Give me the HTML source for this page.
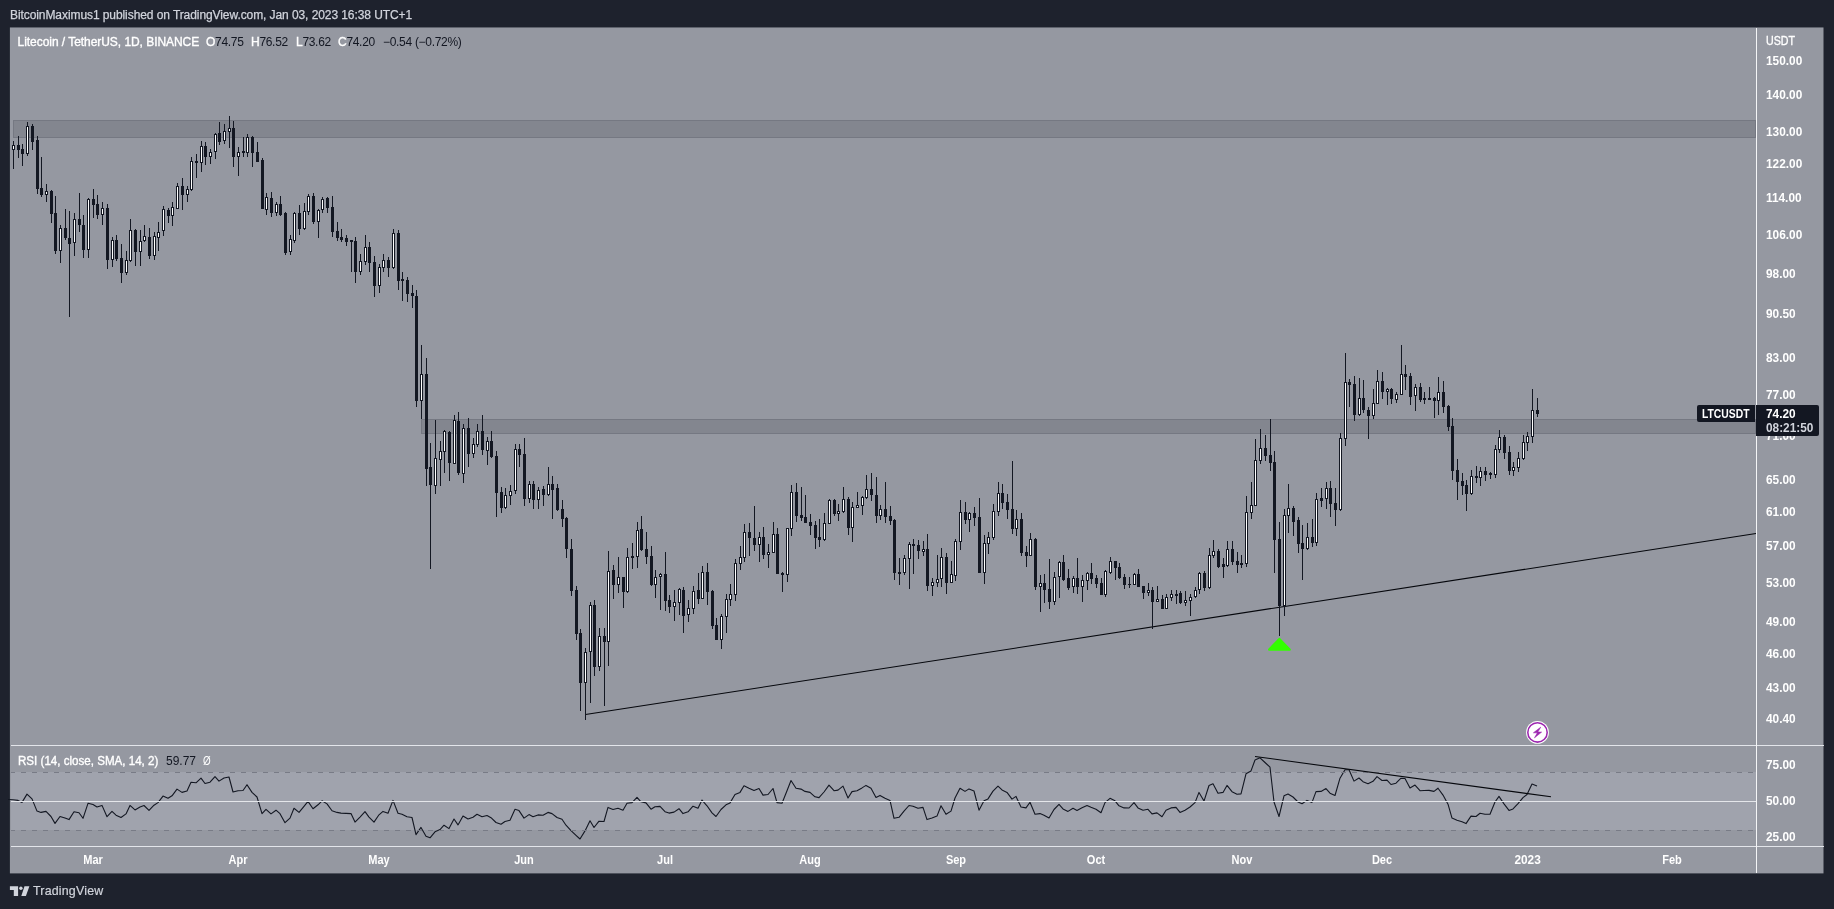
<!DOCTYPE html>
<html><head><meta charset="utf-8"><title>LTCUSDT</title>
<style>
html,body{margin:0;padding:0;}
body{width:1834px;height:909px;background:#1e222d;overflow:hidden;position:relative;font-family:"Liberation Sans",sans-serif;}
.t{position:absolute;white-space:nowrap;line-height:14px;font-size:12px;color:#fff;}
#hdr{left:10px;top:8px;color:#d1d4dc;font-size:12px;letter-spacing:-0.08px;-webkit-text-stroke:0.25px #d1d4dc;}
.w{-webkit-text-stroke:0.35px #fff;}
svg{position:absolute;left:0;top:0;}
#txt{position:absolute;left:0;top:0;width:1834px;height:909px;will-change:transform;}
.ax{font-weight:bold;font-size:11.85px;left:1766px;margin-top:-0.5px;}
.tm{font-weight:bold;font-size:11.85px;transform:translateX(-50%) scaleX(0.93);top:852.5px;}
.v{color:#131722;}
.lg{letter-spacing:-0.3px;}
#lbl1{position:absolute;left:1697px;top:405px;width:58px;height:17px;background:#131722;border-radius:2px 0 0 2px;}
#lbl2{position:absolute;left:1756px;top:405px;width:63px;height:31px;background:#131722;border-radius:0 2px 2px 0;}
</style></head><body>
<svg width="1834" height="909" viewBox="0 0 1834 909">
<!-- chart border -->
<rect x="9.9" y="27.45" width="1813.6" height="845.95" fill="#9598a1"/>
<!-- bands -->
<rect x="13.5" y="120.5" width="1742" height="17" fill="#83868f" stroke="#757882" stroke-width="1"/>
<rect x="421.5" y="419.5" width="1334" height="14" fill="#83868f" stroke="#757882" stroke-width="1"/>
<!-- RSI band -->
<rect x="11" y="772" width="1745" height="58" fill="#a0a3ad"/>
<polyline points="8,799.5 13,799.8 18,800.4 22,802.4 27,794.1 32,798.9 37,811.1 41,812.4 46,811.4 51,816.5 55,823.4 60,816.5 65,818.1 69,819.6 74,811.8 79,812.7 83,818.3 88,803.3 93,804.5 97,807.0 102,805.4 107,816.7 112,811.4 116,815.2 121,817.5 126,813.9 130,805.4 135,809.9 140,807.0 144,805.5 149,810.4 154,805.2 158,802.6 163,796.1 168,798.3 172,795.8 177,789.1 182,792.4 187,791.0 191,782.3 196,782.8 201,778.2 205,783.5 210,782.2 215,776.6 219,781.1 224,778.0 229,777.0 233,792.0 238,790.7 243,790.5 247,784.7 252,792.4 257,797.0 262,813.6 266,809.3 271,813.9 276,810.2 280,813.7 285,822.7 290,818.1 294,808.3 299,812.4 304,806.4 308,801.4 313,808.7 318,804.8 322,800.8 327,803.9 332,810.8 337,812.4 341,813.1 346,813.4 351,813.6 355,822.1 360,817.1 365,811.7 369,817.1 374,822.1 379,814.8 383,811.4 388,813.3 393,800.4 398,813.3 402,814.2 407,816.7 412,817.5 416,834.6 421,827.4 426,836.3 430,837.8 435,831.8 440,829.6 444,825.2 449,828.6 454,819.0 458,824.9 463,816.1 468,819.0 473,817.3 477,814.3 482,816.7 487,815.5 491,817.7 496,822.5 501,824.2 505,821.5 510,820.2 515,809.3 519,810.6 524,818.1 529,814.6 533,816.8 538,814.9 543,815.2 548,812.4 552,813.6 557,817.5 562,819.3 566,825.2 571,830.6 576,835.3 580,839.0 585,830.9 590,820.8 594,827.5 599,821.2 604,821.5 608,807.4 613,809.5 618,808.3 623,810.2 627,803.3 632,802.6 637,797.3 641,801.8 646,802.9 651,809.2 655,806.7 660,806.4 665,811.7 669,813.1 674,812.1 679,808.7 683,813.6 688,811.8 693,806.2 698,808.3 702,800.1 707,805.8 712,812.9 716,816.5 721,809.5 726,804.8 730,802.9 735,794.5 740,792.4 744,785.7 749,788.2 754,790.5 759,788.5 763,795.1 768,794.5 773,788.5 777,802.6 782,803.3 787,790.7 791,780.5 796,788.2 801,789.1 805,791.4 810,792.4 815,796.8 819,797.6 824,792.0 829,785.1 834,790.7 838,790.1 843,786.1 848,798.0 852,791.6 857,790.7 862,787.9 866,785.4 871,788.2 876,797.4 880,795.4 885,798.3 890,800.4 894,818.3 899,817.3 904,811.2 909,805.5 913,806.2 918,808.3 923,807.4 927,819.6 932,818.0 937,816.1 941,805.8 946,814.3 951,811.1 955,798.0 960,788.2 965,791.4 969,788.9 974,791.0 979,810.2 984,800.8 988,798.9 993,791.1 998,786.1 1002,789.9 1007,792.4 1012,799.1 1016,796.4 1021,807.0 1026,807.9 1030,802.3 1035,814.3 1040,813.6 1044,815.2 1049,818.0 1054,809.5 1059,804.3 1063,808.9 1068,811.4 1073,808.3 1077,810.4 1082,807.7 1087,805.4 1091,807.3 1096,809.3 1101,812.7 1105,802.6 1110,798.3 1115,800.8 1119,805.8 1124,807.9 1129,808.0 1134,802.6 1138,807.9 1143,810.2 1148,809.3 1152,813.9 1157,812.9 1162,816.7 1166,810.2 1171,807.9 1176,807.4 1180,812.4 1185,810.2 1190,807.0 1195,802.6 1199,792.4 1204,801.1 1209,785.5 1213,783.8 1218,793.2 1223,792.4 1227,785.4 1232,791.7 1237,794.2 1241,793.9 1246,773.8 1251,770.9 1255,760.0 1260,757.8 1265,762.5 1270,767.2 1274,802.0 1279,816.5 1284,795.8 1288,794.1 1293,797.0 1298,802.0 1302,803.7 1307,800.4 1312,802.4 1316,791.6 1321,791.4 1326,788.6 1330,793.2 1335,795.5 1340,778.2 1345,769.7 1349,769.8 1354,781.1 1359,778.0 1363,781.7 1368,783.8 1373,781.3 1377,776.6 1382,780.5 1387,780.1 1391,784.5 1396,783.2 1401,778.2 1405,778.5 1410,787.9 1415,785.1 1420,790.7 1424,790.5 1429,790.4 1434,791.4 1438,788.2 1443,795.1 1448,804.2 1452,818.1 1457,820.2 1462,821.8 1466,823.6 1471,816.1 1476,816.5 1480,813.3 1485,814.3 1490,814.3 1495,802.0 1499,796.4 1504,803.9 1509,810.4 1513,808.9 1518,803.7 1523,797.6 1527,794.5 1532,784.1 1537,786.1" fill="none" stroke="#131722" stroke-width="1.1" stroke-linejoin="round"/>
<path d="M11 772.5H1756M11 830.5H1756" stroke="#787b86" stroke-width="1" stroke-dasharray="5 6" stroke-dashoffset="1" fill="none" shape-rendering="crispEdges"/>
<path d="M11 801.5H1756" stroke="#e4e6ea" stroke-width="1" fill="none" shape-rendering="crispEdges"/>
<!-- separators -->
<path d="M11 745.5H1823.5M11 846.5H1823.5" stroke="#e3e5ea" stroke-width="1" fill="none" shape-rendering="crispEdges"/>
<path d="M1756.5 28V873.4" stroke="#f4f5f7" stroke-width="1" fill="none" shape-rendering="crispEdges"/>
<!-- trend lines -->
<path d="M585.5 714.5L1756 533.6" stroke="#05070c" stroke-width="1.05" fill="none"/>
<path d="M1255 756.5L1551 796.8" stroke="#05070c" stroke-width="1.05" fill="none"/>
<path d="M13.5 141V169M18.5 136V158M22.5 144V166M27.5 122V156M32.5 124V150M37.5 136V194M41.5 157V197M46.5 184V202M51.5 190V223M55.5 196V254M60.5 225V263M65.5 209V240M69.5 211V317M74.5 213V256M79.5 193V232M83.5 215V258M88.5 198V258M93.5 189V218M97.5 195V219M102.5 202V225M107.5 204V269M112.5 237V267M116.5 235V261M121.5 244V283M126.5 251V275M130.5 219V262M135.5 229V266M140.5 230V266M144.5 225V242M149.5 228V259M154.5 232V260M158.5 222V251M163.5 206V236M168.5 208V223M172.5 202V226M177.5 183V209M182.5 178V210M187.5 186V202M191.5 157V191M196.5 154V178M201.5 141V172M205.5 142V165M210.5 149V164M215.5 133V159M219.5 122V145M224.5 124V144M229.5 116V148M233.5 121V167M238.5 147V176M243.5 137V157M247.5 134V157M252.5 136V167M257.5 142V162M262.5 158V209M266.5 193V215M271.5 192V217M276.5 202V216M280.5 196V216M285.5 212V255M290.5 235V255M294.5 212V243M299.5 205V235M304.5 203V230M308.5 194V215M313.5 193V224M318.5 209V238M322.5 197V213M327.5 197V213M332.5 196V237M337.5 222V241M341.5 229V242M346.5 235V246M351.5 240V272M355.5 237V283M360.5 254V275M365.5 235V265M369.5 242V272M374.5 256V297M379.5 264V293M383.5 254V272M388.5 257V277M393.5 229V269M398.5 230V290M402.5 272V301M407.5 277V302M412.5 285V308M416.5 290V407M421.5 345V419M426.5 358V486M430.5 443V569M435.5 420V494M440.5 441V486M444.5 430V473M449.5 431V481M454.5 415V464M458.5 412V475M463.5 424V483M468.5 418V467M473.5 438V458M477.5 424V447M482.5 415V455M487.5 437V465M491.5 431V458M496.5 451V517M501.5 487V513M505.5 488V509M510.5 485V505M515.5 444V494M519.5 444V467M524.5 438V506M529.5 481V503M533.5 481V509M538.5 487V509M543.5 486V506M548.5 467V496M552.5 476V519M557.5 484V511M562.5 500V527M566.5 517V558M571.5 539V596M576.5 586V640M580.5 629V711M585.5 648V720M590.5 602V703M594.5 600V676M599.5 628V671M604.5 628V706M608.5 551V666M613.5 565V599M618.5 557V593M623.5 577V608M627.5 548V593M632.5 543V569M637.5 522V568M641.5 516V551M646.5 532V564M651.5 546V586M655.5 570V598M660.5 573V610M665.5 552V611M669.5 595V613M674.5 590V621M679.5 588V615M683.5 587V633M688.5 600V622M693.5 586V614M698.5 573V604M702.5 566V599M707.5 563V605M712.5 590V629M716.5 618V640M721.5 614V649M726.5 594V633M730.5 584V606M735.5 559V601M740.5 546V570M744.5 524V562M749.5 523V556M754.5 506V551M759.5 532V562M763.5 527V559M768.5 544V568M773.5 522V553M777.5 528V574M782.5 572V592M787.5 528V582M791.5 485V536M796.5 483V522M801.5 487V521M805.5 495V523M810.5 514V535M815.5 521V549M819.5 519V547M824.5 513V541M829.5 499V524M834.5 499V516M838.5 504V521M843.5 487V513M848.5 497V535M852.5 502V542M857.5 492V508M862.5 496V515M866.5 475V499M871.5 473V501M876.5 477V523M880.5 505V520M885.5 482V523M890.5 506V525M894.5 519V580M899.5 558V585M904.5 555V575M909.5 542V589M913.5 539V574M918.5 540V559M923.5 541V556M927.5 534V591M932.5 578V596M937.5 555V587M941.5 548V587M946.5 553V594M951.5 561V583M955.5 539V581M960.5 500V550M965.5 502V524M969.5 512V532M974.5 507V526M979.5 498V573M984.5 535V584M988.5 532V554M993.5 504V540M998.5 482V516M1002.5 484V509M1007.5 494V519M1012.5 461V534M1016.5 510V536M1021.5 513V556M1026.5 546V567M1030.5 533V556M1035.5 538V590M1040.5 575V612M1044.5 574V603M1049.5 559V609M1054.5 572V605M1059.5 561V598M1063.5 555V581M1068.5 569V590M1073.5 576V593M1077.5 558V594M1082.5 575V602M1087.5 572V590M1091.5 563V584M1096.5 575V588M1101.5 578V595M1105.5 570V597M1110.5 557V574M1115.5 561V580M1119.5 563V579M1124.5 574V589M1129.5 577V588M1134.5 573V585M1138.5 569V587M1143.5 586V599M1148.5 583V596M1152.5 587V629M1157.5 586V602M1162.5 595V609M1166.5 594V609M1171.5 590V601M1176.5 590V604M1180.5 591V604M1185.5 591V606M1190.5 594V616M1195.5 587V598M1199.5 572V594M1204.5 571V591M1209.5 548V589M1213.5 540V558M1218.5 549V568M1223.5 558V578M1227.5 541V567M1232.5 541V565M1237.5 552V573M1241.5 555V568M1246.5 496V567M1251.5 482V519M1255.5 439V506M1260.5 429V464M1265.5 435V461M1270.5 419V471M1274.5 451V573M1279.5 522V636M1284.5 509V616M1288.5 484V533M1293.5 506V536M1298.5 517V553M1302.5 525V580M1307.5 523V550M1312.5 519V547M1316.5 493V546M1321.5 488V507M1326.5 482V509M1330.5 481V517M1335.5 488V526M1340.5 433V511M1345.5 353V446M1349.5 379V407M1354.5 376V421M1359.5 378V416M1363.5 380V413M1368.5 407V439M1373.5 389V419M1377.5 370V404M1382.5 372V399M1387.5 388V405M1391.5 388V404M1396.5 392V403M1401.5 345V395M1405.5 365V390M1410.5 373V405M1415.5 384V411M1420.5 383V402M1424.5 392V404M1429.5 387V400M1434.5 397V418M1438.5 377V415M1443.5 381V413M1448.5 405V431M1452.5 418V480M1457.5 459V500M1462.5 473V495M1466.5 480V511M1471.5 470V495M1476.5 466V483M1480.5 467V486M1485.5 467V481M1490.5 472V479M1495.5 445V478M1499.5 430V453M1504.5 435V459M1509.5 446V475M1513.5 462V476M1518.5 452V472M1523.5 435V460M1527.5 432V451M1532.5 389V443M1537.5 398V417" stroke="#131722" stroke-width="1" fill="none" shape-rendering="crispEdges"/>
<g fill="#131722" shape-rendering="crispEdges"><rect x="17" y="145" width="3" height="5"/><rect x="21" y="149" width="3" height="5"/><rect x="31" y="126" width="3" height="16"/><rect x="36" y="140" width="3" height="49"/><rect x="40" y="188" width="3" height="7"/><rect x="50" y="191" width="3" height="23"/><rect x="54" y="213" width="3" height="38"/><rect x="64" y="228" width="3" height="10"/><rect x="68" y="238" width="3" height="6"/><rect x="78" y="219" width="3" height="6"/><rect x="82" y="225" width="3" height="25"/><rect x="92" y="199" width="3" height="6"/><rect x="96" y="204" width="3" height="11"/><rect x="106" y="208" width="3" height="52"/><rect x="115" y="240" width="3" height="19"/><rect x="120" y="258" width="3" height="15"/><rect x="134" y="230" width="3" height="22"/><rect x="148" y="237" width="3" height="19"/><rect x="167" y="210" width="3" height="6"/><rect x="181" y="186" width="3" height="9"/><rect x="195" y="161" width="3" height="2"/><rect x="204" y="146" width="3" height="11"/><rect x="218" y="133" width="3" height="9"/><rect x="232" y="128" width="3" height="29"/><rect x="242" y="151" width="3" height="2"/><rect x="251" y="137" width="3" height="16"/><rect x="256" y="152" width="3" height="10"/><rect x="261" y="160" width="3" height="49"/><rect x="270" y="198" width="3" height="15"/><rect x="279" y="204" width="3" height="11"/><rect x="284" y="213" width="3" height="40"/><rect x="298" y="213" width="3" height="16"/><rect x="312" y="196" width="3" height="26"/><rect x="326" y="198" width="3" height="10"/><rect x="331" y="207" width="3" height="25"/><rect x="336" y="231" width="3" height="7"/><rect x="340" y="237" width="3" height="3"/><rect x="345" y="238" width="3" height="4"/><rect x="350" y="240" width="3" height="2"/><rect x="354" y="241" width="3" height="31"/><rect x="368" y="247" width="3" height="16"/><rect x="373" y="262" width="3" height="24"/><rect x="387" y="260" width="3" height="8"/><rect x="397" y="233" width="3" height="48"/><rect x="401" y="279" width="3" height="2"/><rect x="406" y="280" width="3" height="14"/><rect x="411" y="293" width="3" height="3"/><rect x="415" y="296" width="3" height="105"/><rect x="425" y="374" width="3" height="95"/><rect x="429" y="467" width="3" height="18"/><rect x="448" y="432" width="3" height="31"/><rect x="457" y="421" width="3" height="52"/><rect x="467" y="428" width="3" height="26"/><rect x="481" y="431" width="3" height="19"/><rect x="490" y="441" width="3" height="16"/><rect x="495" y="456" width="3" height="37"/><rect x="500" y="492" width="3" height="16"/><rect x="518" y="449" width="3" height="6"/><rect x="523" y="454" width="3" height="45"/><rect x="532" y="484" width="3" height="16"/><rect x="542" y="489" width="3" height="6"/><rect x="551" y="484" width="3" height="6"/><rect x="556" y="488" width="3" height="22"/><rect x="561" y="509" width="3" height="10"/><rect x="565" y="518" width="3" height="31"/><rect x="570" y="549" width="3" height="42"/><rect x="575" y="590" width="3" height="44"/><rect x="579" y="633" width="3" height="50"/><rect x="593" y="605" width="3" height="62"/><rect x="603" y="636" width="3" height="6"/><rect x="612" y="570" width="3" height="15"/><rect x="622" y="577" width="3" height="15"/><rect x="631" y="556" width="3" height="2"/><rect x="640" y="529" width="3" height="21"/><rect x="645" y="549" width="3" height="8"/><rect x="650" y="556" width="3" height="29"/><rect x="664" y="574" width="3" height="27"/><rect x="668" y="600" width="3" height="7"/><rect x="682" y="590" width="3" height="26"/><rect x="697" y="590" width="3" height="9"/><rect x="706" y="572" width="3" height="20"/><rect x="711" y="591" width="3" height="35"/><rect x="715" y="625" width="3" height="15"/><rect x="748" y="532" width="3" height="6"/><rect x="753" y="538" width="3" height="7"/><rect x="762" y="537" width="3" height="18"/><rect x="776" y="534" width="3" height="40"/><rect x="781" y="573" width="3" height="2"/><rect x="795" y="492" width="3" height="24"/><rect x="800" y="515" width="3" height="3"/><rect x="804" y="517" width="3" height="6"/><rect x="809" y="522" width="3" height="4"/><rect x="814" y="525" width="3" height="13"/><rect x="818" y="537" width="3" height="3"/><rect x="833" y="500" width="3" height="14"/><rect x="847" y="499" width="3" height="29"/><rect x="870" y="489" width="3" height="6"/><rect x="875" y="495" width="3" height="21"/><rect x="884" y="509" width="3" height="8"/><rect x="889" y="516" width="3" height="5"/><rect x="893" y="520" width="3" height="53"/><rect x="898" y="572" width="3" height="2"/><rect x="912" y="544" width="3" height="2"/><rect x="917" y="545" width="3" height="6"/><rect x="926" y="549" width="3" height="37"/><rect x="945" y="557" width="3" height="26"/><rect x="964" y="512" width="3" height="8"/><rect x="973" y="513" width="3" height="5"/><rect x="978" y="517" width="3" height="56"/><rect x="1001" y="493" width="3" height="10"/><rect x="1006" y="502" width="3" height="8"/><rect x="1011" y="509" width="3" height="20"/><rect x="1020" y="519" width="3" height="34"/><rect x="1025" y="552" width="3" height="4"/><rect x="1034" y="539" width="3" height="48"/><rect x="1043" y="583" width="3" height="7"/><rect x="1048" y="589" width="3" height="13"/><rect x="1062" y="562" width="3" height="18"/><rect x="1067" y="578" width="3" height="10"/><rect x="1076" y="578" width="3" height="9"/><rect x="1090" y="573" width="3" height="6"/><rect x="1095" y="578" width="3" height="6"/><rect x="1100" y="583" width="3" height="12"/><rect x="1114" y="561" width="3" height="7"/><rect x="1118" y="567" width="3" height="11"/><rect x="1123" y="577" width="3" height="8"/><rect x="1128" y="584" width="3" height="1"/><rect x="1137" y="574" width="3" height="13"/><rect x="1142" y="586" width="3" height="7"/><rect x="1151" y="590" width="3" height="12"/><rect x="1161" y="599" width="3" height="10"/><rect x="1175" y="594" width="3" height="2"/><rect x="1179" y="593" width="3" height="10"/><rect x="1203" y="573" width="3" height="15"/><rect x="1217" y="551" width="3" height="16"/><rect x="1222" y="564" width="3" height="3"/><rect x="1231" y="549" width="3" height="13"/><rect x="1236" y="561" width="3" height="4"/><rect x="1240" y="563" width="3" height="2"/><rect x="1264" y="448" width="3" height="8"/><rect x="1269" y="455" width="3" height="8"/><rect x="1273" y="462" width="3" height="78"/><rect x="1278" y="539" width="3" height="67"/><rect x="1292" y="508" width="3" height="14"/><rect x="1297" y="520" width="3" height="24"/><rect x="1301" y="543" width="3" height="6"/><rect x="1311" y="537" width="3" height="6"/><rect x="1320" y="498" width="3" height="3"/><rect x="1329" y="488" width="3" height="16"/><rect x="1334" y="503" width="3" height="7"/><rect x="1348" y="382" width="3" height="3"/><rect x="1353" y="384" width="3" height="31"/><rect x="1362" y="398" width="3" height="12"/><rect x="1367" y="410" width="3" height="6"/><rect x="1381" y="381" width="3" height="11"/><rect x="1390" y="389" width="3" height="10"/><rect x="1404" y="374" width="3" height="3"/><rect x="1409" y="376" width="3" height="21"/><rect x="1419" y="387" width="3" height="13"/><rect x="1423" y="398" width="3" height="2"/><rect x="1428" y="398" width="3" height="2"/><rect x="1433" y="398" width="3" height="3"/><rect x="1442" y="392" width="3" height="15"/><rect x="1447" y="406" width="3" height="21"/><rect x="1451" y="426" width="3" height="45"/><rect x="1456" y="470" width="3" height="12"/><rect x="1461" y="481" width="3" height="5"/><rect x="1465" y="485" width="3" height="9"/><rect x="1475" y="476" width="3" height="2"/><rect x="1484" y="471" width="3" height="4"/><rect x="1503" y="437" width="3" height="16"/><rect x="1508" y="452" width="3" height="19"/><rect x="1536" y="410" width="3" height="4"/></g>
<g fill="#ffffff" stroke="#131722" stroke-width="1" shape-rendering="crispEdges"><rect x="12.5" y="145.5" width="2" height="4"/><rect x="26.5" y="126.5" width="2" height="27"/><rect x="45.5" y="191.5" width="2" height="3"/><rect x="59.5" y="228.5" width="2" height="22"/><rect x="73.5" y="219.5" width="2" height="23"/><rect x="87.5" y="199.5" width="2" height="50"/><rect x="101.5" y="208.5" width="2" height="6"/><rect x="111.5" y="240.5" width="2" height="19"/><rect x="125.5" y="260.5" width="2" height="12"/><rect x="129.5" y="230.5" width="2" height="30"/><rect x="139.5" y="241.5" width="2" height="10"/><rect x="143.5" y="236.5" width="2" height="4"/><rect x="153.5" y="236.5" width="2" height="19"/><rect x="157.5" y="232.5" width="2" height="5"/><rect x="162.5" y="209.5" width="2" height="21"/><rect x="171.5" y="207.5" width="2" height="8"/><rect x="176.5" y="186.5" width="2" height="22"/><rect x="186.5" y="189.5" width="2" height="5"/><rect x="190.5" y="161.5" width="2" height="28"/><rect x="200.5" y="146.5" width="2" height="16"/><rect x="209.5" y="152.5" width="2" height="4"/><rect x="214.5" y="134.5" width="2" height="17"/><rect x="223.5" y="131.5" width="2" height="9"/><rect x="228.5" y="128.5" width="2" height="3"/><rect x="237.5" y="152.5" width="2" height="4"/><rect x="246.5" y="137.5" width="2" height="15"/><rect x="265.5" y="197.5" width="2" height="12"/><rect x="275.5" y="204.5" width="2" height="8"/><rect x="289.5" y="239.5" width="2" height="12"/><rect x="293.5" y="213.5" width="2" height="27"/><rect x="303.5" y="211.5" width="2" height="17"/><rect x="307.5" y="196.5" width="2" height="15"/><rect x="317.5" y="210.5" width="2" height="11"/><rect x="321.5" y="199.5" width="2" height="10"/><rect x="359.5" y="261.5" width="2" height="10"/><rect x="364.5" y="247.5" width="2" height="14"/><rect x="378.5" y="267.5" width="2" height="18"/><rect x="382.5" y="260.5" width="2" height="7"/><rect x="392.5" y="233.5" width="2" height="34"/><rect x="420.5" y="374.5" width="2" height="26"/><rect x="434.5" y="458.5" width="2" height="27"/><rect x="439.5" y="451.5" width="2" height="8"/><rect x="443.5" y="431.5" width="2" height="20"/><rect x="453.5" y="420.5" width="2" height="43"/><rect x="462.5" y="428.5" width="2" height="45"/><rect x="472.5" y="444.5" width="2" height="9"/><rect x="476.5" y="431.5" width="2" height="13"/><rect x="486.5" y="441.5" width="2" height="9"/><rect x="504.5" y="495.5" width="2" height="12"/><rect x="509.5" y="491.5" width="2" height="4"/><rect x="514.5" y="449.5" width="2" height="41"/><rect x="528.5" y="484.5" width="2" height="14"/><rect x="537.5" y="490.5" width="2" height="9"/><rect x="547.5" y="484.5" width="2" height="10"/><rect x="584.5" y="652.5" width="2" height="30"/><rect x="589.5" y="605.5" width="2" height="46"/><rect x="598.5" y="636.5" width="2" height="30"/><rect x="607.5" y="571.5" width="2" height="70"/><rect x="617.5" y="577.5" width="2" height="7"/><rect x="626.5" y="557.5" width="2" height="34"/><rect x="636.5" y="530.5" width="2" height="26"/><rect x="654.5" y="577.5" width="2" height="7"/><rect x="659.5" y="574.5" width="2" height="2"/><rect x="673.5" y="602.5" width="2" height="4"/><rect x="678.5" y="589.5" width="2" height="13"/><rect x="687.5" y="608.5" width="2" height="6"/><rect x="692.5" y="591.5" width="2" height="17"/><rect x="701.5" y="572.5" width="2" height="26"/><rect x="720.5" y="616.5" width="2" height="23"/><rect x="725.5" y="599.5" width="2" height="17"/><rect x="729.5" y="594.5" width="2" height="5"/><rect x="734.5" y="563.5" width="2" height="31"/><rect x="739.5" y="557.5" width="2" height="6"/><rect x="743.5" y="532.5" width="2" height="25"/><rect x="758.5" y="537.5" width="2" height="7"/><rect x="767.5" y="552.5" width="2" height="2"/><rect x="772.5" y="534.5" width="2" height="18"/><rect x="786.5" y="528.5" width="2" height="46"/><rect x="790.5" y="492.5" width="2" height="36"/><rect x="823.5" y="523.5" width="2" height="16"/><rect x="828.5" y="500.5" width="2" height="23"/><rect x="837.5" y="511.5" width="2" height="2"/><rect x="842.5" y="499.5" width="2" height="12"/><rect x="851.5" y="507.5" width="2" height="20"/><rect x="856.5" y="505.5" width="2" height="2"/><rect x="861.5" y="497.5" width="2" height="8"/><rect x="865.5" y="489.5" width="2" height="8"/><rect x="879.5" y="509.5" width="2" height="6"/><rect x="903.5" y="558.5" width="2" height="14"/><rect x="908.5" y="544.5" width="2" height="14"/><rect x="922.5" y="549.5" width="2" height="2"/><rect x="931.5" y="582.5" width="2" height="3"/><rect x="936.5" y="579.5" width="2" height="3"/><rect x="940.5" y="557.5" width="2" height="21"/><rect x="950.5" y="574.5" width="2" height="8"/><rect x="954.5" y="541.5" width="2" height="34"/><rect x="959.5" y="512.5" width="2" height="29"/><rect x="968.5" y="513.5" width="2" height="6"/><rect x="983.5" y="543.5" width="2" height="29"/><rect x="987.5" y="537.5" width="2" height="6"/><rect x="992.5" y="511.5" width="2" height="26"/><rect x="997.5" y="493.5" width="2" height="18"/><rect x="1015.5" y="519.5" width="2" height="9"/><rect x="1029.5" y="539.5" width="2" height="16"/><rect x="1039.5" y="583.5" width="2" height="3"/><rect x="1053.5" y="577.5" width="2" height="24"/><rect x="1058.5" y="562.5" width="2" height="14"/><rect x="1072.5" y="578.5" width="2" height="8"/><rect x="1081.5" y="580.5" width="2" height="6"/><rect x="1086.5" y="573.5" width="2" height="7"/><rect x="1104.5" y="571.5" width="2" height="23"/><rect x="1109.5" y="561.5" width="2" height="11"/><rect x="1133.5" y="574.5" width="2" height="10"/><rect x="1147.5" y="590.5" width="2" height="2"/><rect x="1156.5" y="599.5" width="2" height="2"/><rect x="1165.5" y="597.5" width="2" height="11"/><rect x="1170.5" y="594.5" width="2" height="3"/><rect x="1184.5" y="600.5" width="2" height="2"/><rect x="1189.5" y="597.5" width="2" height="3"/><rect x="1194.5" y="590.5" width="2" height="6"/><rect x="1198.5" y="573.5" width="2" height="16"/><rect x="1208.5" y="555.5" width="2" height="32"/><rect x="1212.5" y="551.5" width="2" height="4"/><rect x="1226.5" y="549.5" width="2" height="16"/><rect x="1245.5" y="512.5" width="2" height="51"/><rect x="1250.5" y="505.5" width="2" height="7"/><rect x="1254.5" y="460.5" width="2" height="45"/><rect x="1259.5" y="448.5" width="2" height="12"/><rect x="1283.5" y="515.5" width="2" height="90"/><rect x="1287.5" y="508.5" width="2" height="7"/><rect x="1306.5" y="537.5" width="2" height="11"/><rect x="1315.5" y="499.5" width="2" height="43"/><rect x="1325.5" y="488.5" width="2" height="10"/><rect x="1339.5" y="438.5" width="2" height="71"/><rect x="1344.5" y="382.5" width="2" height="56"/><rect x="1358.5" y="398.5" width="2" height="16"/><rect x="1372.5" y="403.5" width="2" height="12"/><rect x="1376.5" y="381.5" width="2" height="22"/><rect x="1386.5" y="389.5" width="2" height="2"/><rect x="1395.5" y="394.5" width="2" height="5"/><rect x="1400.5" y="374.5" width="2" height="20"/><rect x="1414.5" y="387.5" width="2" height="8"/><rect x="1437.5" y="392.5" width="2" height="8"/><rect x="1470.5" y="476.5" width="2" height="17"/><rect x="1479.5" y="471.5" width="2" height="6"/><rect x="1489.5" y="473.5" width="2" height="1"/><rect x="1494.5" y="449.5" width="2" height="25"/><rect x="1498.5" y="437.5" width="2" height="12"/><rect x="1512.5" y="467.5" width="2" height="3"/><rect x="1517.5" y="458.5" width="2" height="9"/><rect x="1522.5" y="442.5" width="2" height="16"/><rect x="1526.5" y="436.5" width="2" height="6"/><rect x="1531.5" y="410.5" width="2" height="26"/></g>
<!-- green triangle -->
<path d="M1279.4 639.1L1289.6 649.6H1269.2Z" fill="#33ff00" stroke="#33ff00" stroke-width="2.4" stroke-linejoin="round"/>
<!-- lightning icon -->
<circle cx="1537.5" cy="732.4" r="11.4" fill="#ffffff"/>
<circle cx="1537.5" cy="732.4" r="9.7" fill="#ffffff" stroke="#9c27b0" stroke-width="1.55"/>
<path d="M1540.7 727.2L1533.4 732.8H1537.4L1534.5 737.8L1541.6 732.1H1537.8Z" fill="#9c27b0" stroke="#9c27b0" stroke-width="0.6" stroke-linejoin="round"/>
</svg>
<div id="txt">
<div class="t" id="hdr">BitcoinMaximus1 published on TradingView.com, Jan 03, 2023 16:38 UTC+1</div>
<!-- legend -->
<div class="t w" style="left:17.6px;top:35px;letter-spacing:-0.05px;">Litecoin / TetherUS, 1D, BINANCE</div>
<div class="t lg" style="left:206px;top:35px;"><span class="w">O</span><span class="v">74.75</span></div>
<div class="t lg" style="left:251px;top:35px;"><span class="w">H</span><span class="v">76.52</span></div>
<div class="t lg" style="left:296px;top:35px;"><span class="w">L</span><span class="v">73.62</span></div>
<div class="t lg" style="left:338px;top:35px;"><span class="w">C</span><span class="v">74.20</span></div>
<div class="t v lg" style="left:383px;top:35px;">−0.54 (−0.72%)</div>

<div class="t w" style="left:18px;top:754px;transform:scaleX(0.965);transform-origin:0 0;">RSI (14, close, SMA, 14, 2)</div>
<div class="t v" style="left:166px;top:754px;">59.77</div>
<div class="t" style="left:202.8px;top:754px;transform:scaleX(0.82);transform-origin:0 0;">Ø</div>

<!-- price axis -->
<div class="t ax" style="top:34px;font-weight:normal;transform:scaleX(0.9);transform-origin:0 0;-webkit-text-stroke:0.3px #fff;">USDT</div>
<div class="t ax" style="top:54px;">150.00</div>
<div class="t ax" style="top:88px;">140.00</div>
<div class="t ax" style="top:125px;">130.00</div>
<div class="t ax" style="top:157px;">122.00</div>
<div class="t ax" style="top:191px;">114.00</div>
<div class="t ax" style="top:228px;">106.00</div>
<div class="t ax" style="top:267px;">98.00</div>
<div class="t ax" style="top:307px;">90.50</div>
<div class="t ax" style="top:351px;">83.00</div>
<div class="t ax" style="top:388px;">77.00</div>
<div class="t ax" style="top:429px;">71.00</div>
<div class="t ax" style="top:473px;">65.00</div>
<div class="t ax" style="top:505px;">61.00</div>
<div class="t ax" style="top:539px;">57.00</div>
<div class="t ax" style="top:576px;">53.00</div>
<div class="t ax" style="top:615px;">49.00</div>
<div class="t ax" style="top:647px;">46.00</div>
<div class="t ax" style="top:681px;">43.00</div>
<div class="t ax" style="top:712px;">40.40</div>
<div class="t ax" style="top:758px;">75.00</div>
<div class="t ax" style="top:794px;">50.00</div>
<div class="t ax" style="top:830px;">25.00</div>

<!-- price labels -->
<div id="lbl1"></div><div id="lbl2"></div>
<div class="t" style="left:1701.8px;top:406.5px;font-size:12px;font-weight:bold;transform:scaleX(0.862);transform-origin:0 0;">LTCUSDT</div>
<div class="t ax" style="top:407px;">74.20</div>
<div class="t ax" style="top:421px;color:#d1d4dc;">08:21:50</div>

<!-- time axis -->
<div class="t tm" style="left:92.6px;">Mar</div>
<div class="t tm" style="left:238px;">Apr</div>
<div class="t tm" style="left:378.6px;">May</div>
<div class="t tm" style="left:524.3px;">Jun</div>
<div class="t tm" style="left:664.6px;">Jul</div>
<div class="t tm" style="left:810px;">Aug</div>
<div class="t tm" style="left:955.5px;">Sep</div>
<div class="t tm" style="left:1096px;">Oct</div>
<div class="t tm" style="left:1241.6px;">Nov</div>
<div class="t tm" style="left:1382px;">Dec</div>
<div class="t tm" style="left:1527.6px;transform:translateX(-50%);">2023</div>
<div class="t tm" style="left:1672.3px;">Feb</div>

<!-- TradingView logo -->
<svg style="left:0;top:880px;" width="40" height="20" viewBox="0 880 40 20"><path d="M9.9 886.2H18.1V895.9H13.8V889.9H9.9Z M24.5 886.2H29.4L25.9 895.9H21.3Z" fill="#d1d4dc"/><circle cx="20.9" cy="888.3" r="1.7" fill="#d1d4dc"/></svg>
<div class="t" id="tv" style="left:33px;top:884.4px;color:#d1d4dc;font-size:12.4px;letter-spacing:0.2px;-webkit-text-stroke:0.2px #d1d4dc;">TradingView</div>
</div>
</body></html>
